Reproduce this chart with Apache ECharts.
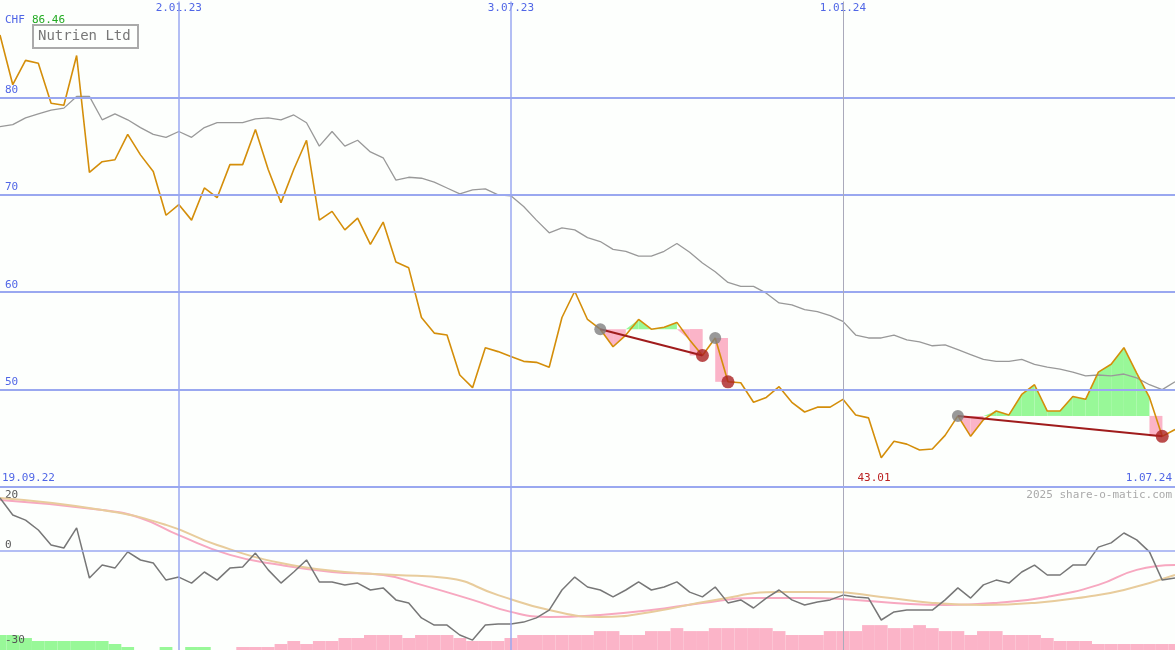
<!DOCTYPE html>
<html><head><meta charset="utf-8">
<script src="https://cdn.jsdelivr.net/npm/echarts@6/dist/echarts.min.js"></script>
<style>html,body{margin:0;padding:0;background:#fdfffd}#c{width:1175px;height:650px}</style>
</head><body><div id="c"></div>
<script>
const price=[86.4,81.3,83.8,83.5,79.4,79.2,84.3,72.3,73.4,73.6,76.2,74.1,72.4,67.9,69.0,67.4,70.7,69.7,73.1,73.1,76.7,72.6,69.2,72.6,75.6,67.4,68.3,66.4,67.6,64.9,67.2,63.1,62.5,57.4,55.8,55.6,51.5,50.2,54.3,53.9,53.4,52.9,52.8,52.3,57.4,60.1,57.2,56.2,54.4,55.6,57.2,56.2,56.4,56.9,55.1,53.5,55.3,50.8,50.7,48.7,49.2,50.3,48.7,47.7,48.2,48.2,49.0,47.4,47.1,43.0,44.7,44.4,43.8,43.9,45.3,47.3,45.2,46.9,47.8,47.4,49.5,50.5,47.8,47.8,49.3,49.0,51.8,52.6,54.3,51.7,49.2,45.2,45.9];
const bench=[77.0,77.2,77.9,78.3,78.7,78.9,80.1,80.1,77.7,78.3,77.7,76.9,76.2,75.9,76.5,75.9,76.9,77.4,77.4,77.4,77.8,77.9,77.7,78.2,77.4,75.0,76.5,75.0,75.6,74.4,73.8,71.5,71.8,71.7,71.3,70.7,70.1,70.5,70.6,70.0,69.9,68.8,67.4,66.1,66.6,66.4,65.6,65.2,64.4,64.2,63.7,63.7,64.2,65.0,64.1,63.0,62.1,61.0,60.6,60.6,59.9,58.9,58.7,58.2,58.0,57.6,57.0,55.6,55.3,55.3,55.6,55.1,54.9,54.5,54.6,54.1,53.6,53.1,52.9,52.9,53.1,52.6,52.3,52.1,51.8,51.4,51.5,51.4,51.6,51.2,50.5,50.0,50.8];
const osc=[17.7,12,10.3,7,2,1,7.7,-9,-4.7,-5.7,-0.3,-3,-4,-9.7,-8.7,-10.7,-7,-9.7,-5.7,-5.3,-0.7,-6.3,-10.7,-7,-3,-10.3,-10.3,-11.3,-10.7,-13,-12.3,-16.3,-17.3,-22.3,-24.7,-24.7,-28,-29.7,-24.7,-24.3,-24.3,-23.7,-22.3,-19.7,-13,-8.7,-12,-13,-15.3,-13,-10.3,-13,-12,-10.3,-13.7,-15.3,-12,-17.3,-16.3,-19,-15.7,-13,-16.3,-18,-17,-16.3,-14.7,-15.3,-15.7,-23,-20.3,-19.7,-19.7,-19.7,-16.3,-12.3,-15.7,-11.3,-9.7,-10.7,-7,-4.7,-8,-8,-4.7,-4.7,1.3,2.7,6,3.7,-0.3,-9.7,-9];
const pinkAvg=[[0,17],[8,13.7],[11,11],[14,5.3],[18,-1.3],[22,-4.7],[26,-7],[30,-8],[33,-11.3],[37,-16.3],[40,-20.3],[43,-22],[47,-21.3],[51,-19.7],[55,-17.3],[59,-15.7],[63,-15.7],[67,-16.3],[70,-17.3],[74,-18],[78,-17.3],[82,-15.3],[86,-11.3],[89,-6.3],[92,-4.7]];
const tanAvg=[[0,17.7],[8,13.7],[13,8.7],[17,2],[22,-4],[27,-7],[31,-8],[35,-9],[39,-14.7],[43,-19.7],[47,-22],[51,-20.3],[56,-16.3],[61,-13.7],[65,-13.7],[69,-15.3],[73,-17.3],[77,-18],[81,-17.3],[85,-15.3],[88,-13],[92,-8]];
const hist=[-28,-28,-29,-30,-30,-30,-30,-30,-30,-31,-32,null,null,-32,null,-32,-32,null,null,-32,-32,-32,-31,-30,-31,-30,-30,-29,-29,-28,-28,-28,-29,-28,-28,-28,-29,-30,-30,-30,-29,-28,-28,-28,-28,-28,-28,-26.7,-26.7,-28,-28,-26.7,-26.7,-25.7,-26.7,-26.7,-25.7,-25.7,-25.7,-25.7,-25.7,-26.7,-28,-28,-28,-26.7,-26.7,-26.7,-24.7,-24.7,-25.7,-25.7,-24.7,-25.7,-26.7,-26.7,-28,-26.7,-26.7,-28,-28,-28,-29,-30,-30,-30,-31,-31,-31,-31,-31,-31,-31];
const histGreenUntil=18;
const topLabels=[[14,'2.01.23'],[40,'3.07.23'],[66,'1.01.24']];
const yTicks=[80,70,60,50];
const regions=[[47,55],[75,91]];   // [start index, end index], level = price at start
const blocks=[[54,55,47],[56,57,56],[90,91,75]]; // from idx, to idx, level idx
const grayPts=[47,56,75];
const redPts=[55,57,91];

const cats=price.map((_,i)=>i);
const BLUE='#9aa8f0', TXT='#5066e6';
const font='"DejaVu Sans Mono", monospace';

function regionItem(params,api){
  const children=[];
  regions.forEach(([s,e])=>{
    const L=price[s];
    for(let i=s;i<e;i++){
      const a=price[i],b=price[i+1];
      const segs=[];
      if((a-L)*(b-L)<0){const t=(L-a)/(b-a);segs.push([i,a,i+t,L],[i+t,L,i+1,b]);}
      else segs.push([i,a,i+1,b]);
      segs.forEach(([x1,v1,x2,v2])=>{
        const up=(v1+v2)/2>=L;
        const pts=[api.coord([x1,v1]),api.coord([x2,v2]),api.coord([x2,L]),api.coord([x1,L])];
        children.push({type:'polygon',shape:{points:pts},style:{fill:up?'#98f898':'#fbb4c8'}});
      });
    }
  });
  blocks.forEach(([f,t,l])=>{
    const p1=api.coord([f,price[l]]),p2=api.coord([t,price[t]]);
    children.push({type:'rect',shape:{x:p1[0],y:p1[1],width:p2[0]-p1[0],height:p2[1]-p1[1]},style:{fill:'#fbb4c8'}});
  });
  return {type:'group',children};
}

const vline={silent:true,symbol:'none',label:{show:false},data:topLabels.map((t,k)=>({xAxis:t[0],lineStyle:{color:k==2?'#aab':BLUE,width:k==2?1:1.5,type:'solid'}}))};
const hlines={silent:true,symbol:'none',label:{show:false},data:yTicks.map(v=>({yAxis:v,lineStyle:{color:BLUE,width:2,type:'solid'}}))};

const chart=echarts.init(document.getElementById('c'));
chart.setOption({
  animation:false,backgroundColor:'#fdfffd',
  grid:[{left:0,right:0,top:0,height:487},{left:0,right:0,top:487,height:163}],
  xAxis:[
    {type:'category',data:cats,boundaryGap:false,gridIndex:0,show:false},
    {type:'category',data:cats,boundaryGap:false,gridIndex:1,show:false}],
  yAxis:[
    {type:'value',gridIndex:0,min:40,max:90,show:false,splitLine:{show:false}},
    {type:'value',gridIndex:1,min:-33,max:21.33,show:false,splitLine:{show:false}},
    {type:'value',gridIndex:1,min:0,max:54.33,show:false,splitLine:{show:false}}],
  series:[
    {type:'custom',xAxisIndex:0,yAxisIndex:0,renderItem:(p,api)=>p.dataIndex===0?regionItem(p,api):null,data:[0],z:1,silent:true,markLine:hlines},
    {type:'line',data:bench,xAxisIndex:0,yAxisIndex:0,symbol:'none',lineStyle:{color:'#999',width:1.3},z:2,markLine:vline},
    {type:'line',data:price,xAxisIndex:0,yAxisIndex:0,symbol:'none',lineStyle:{color:'#d48e0a',width:1.6},z:3},
    {type:'line',data:[[regions[0][0],price[regions[0][0]]],[regions[0][1],price[regions[0][1]]]],xAxisIndex:0,yAxisIndex:0,symbol:'none',lineStyle:{color:'#a01c1c',width:2},z:4},
    {type:'line',data:[[regions[1][0],price[regions[1][0]]],[regions[1][1],price[regions[1][1]]]],xAxisIndex:0,yAxisIndex:0,symbol:'none',lineStyle:{color:'#a01c1c',width:2},z:4},
    {type:'scatter',data:grayPts.map(i=>[i,price[i]]),xAxisIndex:0,yAxisIndex:0,symbolSize:12,itemStyle:{color:'#808080'},z:5},
    {type:'scatter',data:redPts.map(i=>[i,price[i]]),xAxisIndex:0,yAxisIndex:0,symbolSize:13,itemStyle:{color:'#aa2020'},z:5},
    {type:'bar',xAxisIndex:1,yAxisIndex:2,barWidth:'100%',barGap:'0%',barCategoryGap:'0%',z:1,
     data:hist.map((v,i)=>v==null?null:{value:v+33,itemStyle:{color:i<histGreenUntil?'#98f898':'#fbb4c8'}})},
    {type:'line',data:pinkAvg,xAxisIndex:1,yAxisIndex:1,symbol:'none',smooth:true,lineStyle:{color:'#f7a8c0',width:2},z:3,
     markLine:{silent:true,symbol:'none',label:{show:false},data:[{yAxis:0,lineStyle:{color:BLUE,width:1.5,type:'solid'}}].concat(vline.data)}},
    {type:'line',data:tanAvg,xAxisIndex:1,yAxisIndex:1,symbol:'none',smooth:true,lineStyle:{color:'#e8cc9c',width:2},z:3},
    {type:'line',data:osc,xAxisIndex:1,yAxisIndex:1,symbol:'none',lineStyle:{color:'#777',width:1.5},z:4}
  ],
  graphic:[
    {type:'rect',shape:{x:0,y:0,width:1175,height:1.5},style:{fill:'#fdfffd'},z:100},
    {type:'rect',shape:{x:0,y:486,width:1175,height:2},style:{fill:BLUE},z:10},
    ...topLabels.map(t=>({type:'text',x:t[0]*1175/(price.length-1),y:3,style:{text:t[1],fill:TXT,font:'11px '+font,textAlign:'center'}})),
    ...yTicks.map(v=>({type:'text',x:5,y:(90-v)*487/50-13,style:{text:String(v),fill:TXT,font:'11px '+font}})),
    {type:'text',x:5,y:15,style:{text:'CHF',fill:TXT,font:'11px '+font}},
    {type:'text',x:32,y:15,style:{text:'86.46',fill:'#22aa22',font:'11px '+font}},
    {type:'rect',shape:{x:33,y:25,width:105,height:23},style:{fill:'#fdfffd',stroke:'#aaa',lineWidth:2},z:10},
    {type:'text',x:38,y:29,style:{text:'Nutrien Ltd',fill:'#777',font:'14px '+font},z:11},
    {type:'text',x:2,y:473,style:{text:'19.09.22',fill:TXT,font:'11px '+font}},
    {type:'text',x:1172,y:473,style:{text:'1.07.24',fill:TXT,font:'11px '+font,textAlign:'right'}},
    {type:'text',x:874,y:473,style:{text:'43.01',fill:'#bb2222',font:'11px '+font,textAlign:'center'}},
    {type:'text',x:1172,y:490,style:{text:'2025 share-o-matic.com',fill:'#aaa',font:'11px '+font,textAlign:'right'}},
    {type:'text',x:5,y:490,style:{text:'20',fill:'#555',font:'11px '+font}},
    {type:'text',x:5,y:540,style:{text:'0',fill:'#555',font:'11px '+font}},
    {type:'text',x:5,y:635,style:{text:'-30',fill:'#555',font:'11px '+font},z:10}
  ]
});
</script></body></html>
